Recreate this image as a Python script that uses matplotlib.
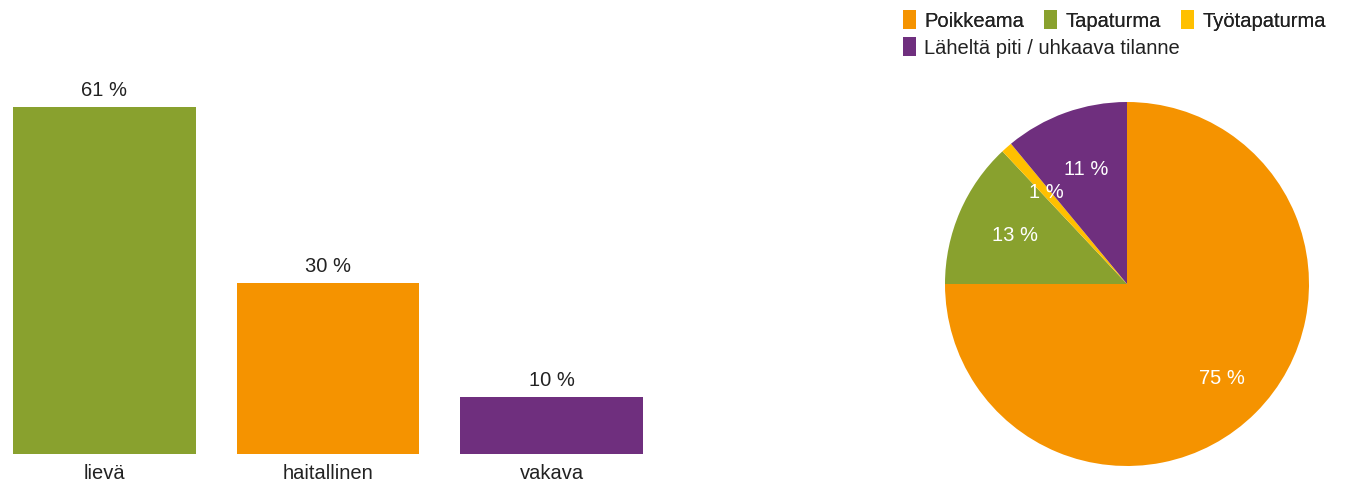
import matplotlib.pyplot as plt
from matplotlib.patches import Patch

plt.rcParams['font.family'] = ['Liberation Sans', 'DejaVu Sans']

# vakavuus (bar chart)
bar_labels = ['lievä', 'haitallinen', 'vakava']
bar_values = [61, 30, 10]
bar_colors = ['#89a12e', '#f59300', '#6f2f7e']

# tapahtuman tyyppi (pie chart)
pie_labels = ['Poikkeama', 'Tapaturma', 'Työtapaturma', 'Läheltä piti / uhkaava tilanne']
pie_values = [75, 13, 1, 11]
pie_colors = ['#f59300', '#89a12e', '#ffc000', '#6f2f7e']

W, H = 1352, 484
fig = plt.figure(figsize=(W / 100, H / 100), dpi=100)

# bars
ax = fig.add_axes([13 / W, (H - 454) / H, 630 / W, 398 / H])
width = 0.817
x = range(len(bar_values))
bars = ax.bar(x, bar_values, width=width, color=bar_colors)
ax.set_xlim(-width / 2, len(bar_values) - 1 + width / 2)
ax.set_ylim(0, 70)
for b, v in zip(bars, bar_values):
    ax.annotate(f'{v} %', (b.get_x() + b.get_width() / 2, v), xytext=(0, 5),
                textcoords='offset points', ha='center', va='bottom',
                fontsize=14.5, color='#222222')
ax.set_xticks(list(x))
ax.set_xticklabels(bar_labels, fontsize=14.5, color='#222222')
ax.tick_params(axis='x', length=0, pad=7)
ax.set_yticks([])
for s in ax.spines.values():
    s.set_visible(False)

# pie
ax2 = fig.add_axes([945 / W, (H - 466) / H, 364 / W, 364 / H])
wedges, texts, autotexts = ax2.pie(pie_values, colors=pie_colors, startangle=90,
                                   counterclock=False, autopct='%d %%',
                                   pctdistance=0.67,
                                   textprops=dict(color='white', fontsize=14.5))
# biggest slice label sits a bit further out
px, py = autotexts[0].get_position()
autotexts[0].set_position((px * 1.1, py * 1.1))
ax2.set_xlim(-1, 1)
ax2.set_ylim(-1, 1)
ax2.set_aspect('equal')

# legend: three on first row, one on second
handles = [Patch(facecolor=c, edgecolor='none') for c in pie_colors]
leg1 = fig.legend(handles[:3], pie_labels[:3], ncol=3, loc='upper left',
                  bbox_to_anchor=(889 / W, 1 + 4 / H), frameon=False,
                  fontsize=14.5, handlelength=0.65, handleheight=1.1,
                  handletextpad=0.4, columnspacing=1.0, borderpad=0.2,
                  labelcolor='#222222')
leg2 = fig.legend(handles[3:], pie_labels[3:], loc='upper left',
                  bbox_to_anchor=(889 / W, 1 - 23 / H), frameon=False,
                  fontsize=14.5, handlelength=0.65, handleheight=1.1,
                  handletextpad=0.4, borderpad=0.2, labelcolor='#222222')
fig.add_artist(leg1)

fig.savefig('out.png', dpi=100)
